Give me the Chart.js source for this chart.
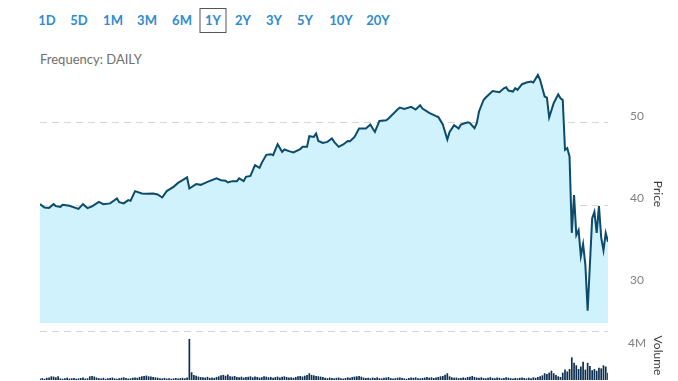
<!DOCTYPE html>
<html>
<head>
<meta charset="utf-8">
<script src="https://cdn.jsdelivr.net/npm/chart.js@4.4.0/dist/chart.umd.min.js"></script>
<style>
    html, body { margin: 0; padding: 0; background: #fff; }
    body { width: 678px; height: 381px; position: relative; overflow: hidden; font-family: "Lato", "DejaVu Sans", sans-serif; }
    .range-btn { position: absolute; top: 8px; height: 25px; line-height: 25px; font-size: 13px; font-weight: 700; color: #2e8bd1; transform: translateX(-50%); }
    .range-btn.active { border: 1px solid #555; box-sizing: border-box; width: 27px; text-align: center; line-height: 23px; }
    .freq { position: absolute; left: 40px; top: 51px; font-size: 13px; color: #707070; }
    #price-box { position: absolute; left: 0; top: 65px; width: 678px; height: 258px; }
    #volume-box { position: absolute; left: 0; top: 331px; width: 678px; height: 50px; }
</style>
</head>
<body>
<div id="buttons"></div>
<div class="freq">Frequency: DAILY</div>
<div id="price-box"><canvas id="price-chart"></canvas></div>
<div id="volume-box"><canvas id="volume-chart"></canvas></div>

<script>
    var ranges = ["1D", "5D", "1M", "3M", "6M", "1Y", "2Y", "3Y", "5Y", "10Y", "20Y"];
    var activeRange = "1Y";

    // trading day index (0 = first day of the year shown) and closing price
    var days = [0,2,4,6,7,9,10,13,17,19,21,23,26,28,31,34,35,37,39,40,
        42,45,47,50,52,54,56,59,61,63,65,66,69,71,74,78,80,82,83,85,
        87,88,90,91,93,95,97,98,100,102,103,105,107,108,110,112,115,116,118,119,
        121,122,123,125,127,129,130,132,134,136,137,139,141,144,146,147,148,150,153,154,
        158,159,161,164,166,168,169,172,175,176,178,180,181,183,185,186,189,190,192,193,
        194,196,197,200,203,205,206,207,209,210,211,213,215,217,218,220,221,223,224,225,
        227,229,230,231,232,233,234,235,236,237,238,239,240,241,242,244,245,246,247,248,
        249,250,251];
    var prices = [40.12,39.72,39.67,40.12,39.88,39.79,40.04,39.92,39.55,40.12,39.64,39.84,40.40,40.12,40.21,40.81,40.36,40.21,40.61,40.52,
        41.70,41.42,41.37,41.42,41.30,40.93,41.70,42.22,42.70,43.03,43.36,42.02,42.55,42.46,42.82,43.24,43.03,42.95,42.75,42.91,
        42.91,43.24,42.91,43.43,43.55,44.85,44.52,45.13,46.10,46.18,46.06,47.39,46.46,46.75,46.55,46.39,46.79,47.07,47.07,48.36,
        48.28,48.69,47.79,47.55,47.67,48.08,47.67,47.07,47.36,47.79,47.76,48.28,49.30,49.30,49.78,49.30,48.88,50.22,50.30,50.51,
        51.60,51.84,51.67,51.92,51.60,52.12,51.72,51.19,50.79,50.70,49.78,47.96,48.88,49.70,49.30,49.78,50.06,49.94,49.33,49.94,
        51.36,52.76,53.05,53.85,53.70,54.18,54.30,53.90,53.78,54.18,53.98,54.67,54.87,54.99,54.87,55.79,55.19,53.18,53.05,50.63,
        52.36,53.45,52.97,52.76,46.70,46.91,45.90,36.64,41.21,36.36,36.97,33.82,35.27,32.73,27.19,38.39,39.19,36.64,39.88,36.06,
        34.51,36.61,35.55];

    // daily volume in millions, one value per trading day 0..251
    var volumes = [
        0.12,0.15,0.1,0.18,0.2,0.3,0.28,0.22,0.3,0.13,0.1,0.15,0.19,0.12,0.14,0.17,0.11,0.13,0.16,0.2,0.12,
        0.14,0.3,0.32,0.28,0.2,0.15,0.12,0.18,0.1,0.14,0.16,0.2,0.13,0.11,0.15,0.18,0.22,0.17,0.12,0.14,0.19,
        0.21,0.18,0.25,0.3,0.33,0.36,0.3,0.28,0.25,0.22,0.19,0.15,0.13,0.17,0.12,0.14,0.1,0.13,0.16,0.12,0.15,
        0.18,0.14,0.2,3.35,0.63,0.41,0.35,0.28,0.24,0.22,0.2,0.26,0.18,0.21,0.17,0.25,0.3,0.38,0.42,0.35,0.45,
        0.3,0.28,0.33,0.25,0.22,0.27,0.2,0.24,0.26,0.3,0.22,0.28,0.25,0.2,0.23,0.3,0.27,0.22,0.25,0.19,0.24,
        0.28,0.21,0.26,0.3,0.24,0.2,0.22,0.18,0.25,0.3,0.33,0.28,0.35,0.4,0.55,0.42,0.38,0.33,0.3,0.28,0.24,
        0.18,0.15,0.2,0.16,0.14,0.18,0.2,0.15,0.12,0.17,0.22,0.19,0.25,0.28,0.3,0.33,0.27,0.2,0.16,0.18,0.14,
        0.2,0.17,0.22,0.15,0.13,0.18,0.2,0.24,0.16,0.12,0.15,0.19,0.21,0.17,0.14,0.1,0.16,0.2,0.18,0.22,0.15,
        0.13,0.17,0.2,0.24,0.19,0.22,0.16,0.2,0.25,0.3,0.33,0.42,0.55,0.3,0.22,0.18,0.2,0.15,0.17,0.21,0.18,
        0.24,0.27,0.33,0.25,0.2,0.18,0.22,0.16,0.14,0.19,0.23,0.17,0.15,0.2,0.18,0.13,0.16,0.22,0.19,0.15,0.12,
        0.17,0.14,0.18,0.2,0.16,0.13,0.19,0.15,0.22,0.18,0.25,0.3,0.38,0.55,0.48,0.6,0.76,0.55,0.4,0.3,0.25,
        0.6,0.85,0.7,0.9,1.85,1.4,1.2,0.9,1.1,1.5,0.85,1.4,1.15,0.8,0.9,0.75,1.0,0.95,1.2,1.1,0.6];

    var priceTicks = [30, 40, 50];
    var volumeTicks = [4];

    // range buttons
    var btnX = [47, 79, 113, 147, 182, 213, 243, 274, 305, 341, 378];
    var box = document.getElementById("buttons");
    ranges.forEach(function (r, i) {
        var el = document.createElement("div");
        el.className = "range-btn" + (r === activeRange ? " active" : "");
        el.style.left = btnX[i] + "px";
        el.textContent = r;
        box.appendChild(el);
    });

    var lastDay = volumes.length - 1;
    var gridColor = "#d6d6d6";
    var tickFont = { family: "Lato", size: 12 };
    var titleFont = { family: "Lato", size: 12 };

    function fixAxis(scale) {
        scale.width = 70;
        scale.paddingTop = 0;
        scale.paddingBottom = 0;
    }

    new Chart(document.getElementById("price-chart"), {
        type: "line",
        data: {
            datasets: [{
                data: days.map(function (d, i) { return { x: d, y: prices[i] }; }),
                borderColor: "#0d4b6c",
                borderWidth: 2,
                backgroundColor: "#cff2fd",
                fill: "start",
                pointRadius: 0,
                tension: 0
            }]
        },
        options: {
            responsive: true,
            maintainAspectRatio: false,
            animation: false,
            layout: { padding: { left: 40, right: 0, top: 0, bottom: 0 } },
            plugins: { legend: { display: false }, tooltip: { enabled: false } },
            scales: {
                x: { type: "linear", min: 0, max: lastDay, display: false },
                y: {
                    position: "right",
                    min: 25.7,
                    max: 57,
                    afterBuildTicks: function (s) { s.ticks = priceTicks.map(function (v) { return { value: v }; }); },
                    afterFit: fixAxis,
                    grid: { color: gridColor, drawTicks: false, lineWidth: 1 },
                    border: { display: false, dash: [7, 5] },
                    ticks: { color: "#808080", font: tickFont, padding: 22, labelOffset: -7 },
                    title: { display: true, text: "Price", color: "#3a3a3a", font: titleFont, padding: { top: 13, bottom: 0 } }
                }
            }
        }
    });

    new Chart(document.getElementById("volume-chart"), {
        type: "bar",
        data: {
            labels: volumes.map(function (v, i) { return i; }),
            datasets: [{
                data: volumes,
                backgroundColor: "#0c2f52",
                barPercentage: 0.75,
                categoryPercentage: 1
            }]
        },
        options: {
            responsive: true,
            maintainAspectRatio: false,
            animation: false,
            layout: { padding: { left: 40, right: 0, top: 0, bottom: 1 } },
            plugins: { legend: { display: false }, tooltip: { enabled: false } },
            scales: {
                x: { type: "category", offset: false, display: false },
                y: {
                    position: "right",
                    min: 0,
                    max: 4,
                    afterBuildTicks: function (s) { s.ticks = volumeTicks.map(function (v) { return { value: v }; }); },
                    afterFit: fixAxis,
                    grid: { color: gridColor, drawTicks: false, lineWidth: 1 },
                    border: { display: false, dash: [7, 5] },
                    ticks: {
                        color: "#808080", font: tickFont, padding: 20, labelOffset: 12,
                        callback: function (v) { return v + "M"; }
                    },
                    title: { display: true, text: "Volume", color: "#3a3a3a", font: titleFont, padding: { top: 13, bottom: 0 } }
                }
            }
        }
    });
</script>
</body>
</html>
